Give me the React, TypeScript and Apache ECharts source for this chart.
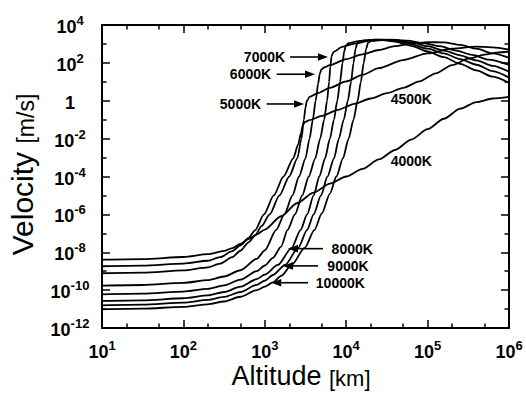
import React, { useEffect, useRef } from "react";
import * as echarts from "echarts";

// Values are read off the log-log picture as decades:
// [log10(altitude / km), log10(velocity / (m/s))]
const xDecades = [1, 2, 3, 4, 5, 6];
const yDecades = [-12, -10, -8, -6, -4, -2, 0, 2, 4];

const c4000 = [[1,-8.39],[1.5,-8.36],[2,-8.25],[2.3,-8.1],[2.5,-7.93],[2.6,-7.78],[2.7,-7.56],[2.8,-7.3],[2.9,-7.06],[3,-6.8],[3.2,-6.1],[3.4,-5.4],[3.6,-4.85],[3.8,-4.38],[4,-4.0],[4.2,-3.6],[4.4,-3.1],[4.6,-2.6],[4.8,-2.05],[5,-1.5],[5.2,-0.95],[5.4,-0.42],[5.6,-0.07],[5.8,0.12],[6,0.2]];
const c4500 = [[1,-8.74],[1.5,-8.71],[2,-8.6],[2.3,-8.45],[2.45,-8.26],[2.6,-7.94],[2.7,-7.64],[2.8,-7.24],[2.88,-6.84],[2.99,-6.0],[3.11,-5.0],[3.23,-4.0],[3.35,-3.04],[3.41,-2.3],[3.445,-1.7],[3.465,-1.32],[3.49,-1.13],[3.55,-1.02],[3.7,-0.8],[3.9,-0.48],[4.1,-0.16],[4.3,0.12],[4.5,0.4],[4.7,0.68],[4.9,1.02],[5.1,1.45],[5.3,1.88],[5.5,2.22],[5.7,2.44],[5.85,2.54],[6,2.6]];
const c5000 = [[1,-9.11],[1.5,-9.08],[2,-8.96],[2.3,-8.8],[2.45,-8.6],[2.6,-8.26],[2.7,-7.92],[2.8,-7.48],[2.88,-7.12],[2.96,-6.62],[3.06,-6.0],[3.18,-5.0],[3.3,-4.0],[3.4,-3.04],[3.45,-2.0],[3.48,-1.0],[3.5,-0.35],[3.515,-0.02],[3.55,0.2],[3.65,0.4],[3.8,0.68],[4,1.02],[4.2,1.37],[4.4,1.72],[4.7,2.15],[5,2.5],[5.3,2.75],[5.6,2.86],[5.8,2.82],[6,2.7]];
const c6000 = [[1,-9.76],[1.5,-9.73],[2,-9.62],[2.3,-9.47],[2.5,-9.28],[2.7,-8.95],[2.9,-8.35],[3.0,-7.9],[3.14,-6.82],[3.24,-6.0],[3.34,-5.0],[3.42,-4.0],[3.5,-3.04],[3.55,-2.0],[3.59,-1.0],[3.625,0.0],[3.655,0.9],[3.675,1.42],[3.695,1.65],[3.73,1.76],[3.8,1.88],[4,2.2],[4.2,2.45],[4.4,2.68],[4.6,2.88],[4.8,3.02],[5,3.1],[5.2,3.08],[5.4,2.95],[5.6,2.75],[5.8,2.5],[6,2.26]];
const c7000 = [[1,-10.22],[1.5,-10.19],[2,-10.08],[2.3,-9.93],[2.5,-9.75],[2.7,-9.45],[2.9,-9.0],[3.0,-8.7],[3.1,-8.3],[3.2,-7.7],[3.28,-6.82],[3.37,-6.0],[3.46,-5.0],[3.54,-4.0],[3.62,-3.04],[3.68,-2.0],[3.73,-1.0],[3.765,0.0],[3.79,1.0],[3.805,1.8],[3.82,2.35],[3.845,2.58],[3.95,2.85],[4.1,3.02],[4.3,3.18],[4.45,3.2],[4.6,3.12],[4.8,2.9],[5,2.6],[5.2,2.3],[5.4,1.95],[5.6,1.6],[5.8,1.27],[6,0.94]];
const c8000 = [[1,-10.57],[1.5,-10.54],[2,-10.43],[2.3,-10.28],[2.5,-10.1],[2.7,-9.82],[2.9,-9.42],[3.0,-9.18],[3.16,-8.67],[3.33,-7.77],[3.44,-6.82],[3.52,-6.0],[3.6,-5.0],[3.67,-4.0],[3.74,-3.04],[3.8,-2.0],[3.85,-1.0],[3.89,0.0],[3.925,1.0],[3.955,2.0],[3.975,2.6],[3.995,2.92],[4.03,3.04],[4.15,3.15],[4.35,3.22],[4.55,3.2],[4.75,3.05],[5,2.75],[5.2,2.5],[5.4,2.2],[5.6,1.9],[5.8,1.56],[6,1.22]];
const c9000 = [[1,-10.8],[1.5,-10.77],[2,-10.66],[2.3,-10.52],[2.5,-10.36],[2.7,-10.1],[2.9,-9.72],[3.0,-9.5],[3.1,-9.2],[3.25,-8.67],[3.41,-7.77],[3.52,-6.82],[3.6,-6.0],[3.69,-5.0],[3.77,-4.0],[3.85,-3.04],[3.91,-2.0],[3.97,-1.0],[4.02,0.0],[4.06,1.0],[4.09,2.0],[4.115,2.75],[4.14,3.08],[4.18,3.16],[4.3,3.21],[4.45,3.23],[4.6,3.2],[4.8,3.08],[5,2.88],[5.2,2.65],[5.4,2.4],[5.6,2.13],[5.8,1.84],[6,1.54]];
const c10000 = [[1,-11.01],[1.5,-10.98],[2,-10.88],[2.3,-10.75],[2.5,-10.6],[2.7,-10.35],[2.9,-10.0],[3.0,-9.82],[3.1,-9.59],[3.2,-9.25],[3.33,-8.67],[3.49,-7.77],[3.61,-6.82],[3.7,-5.95],[3.8,-4.9],[3.88,-4.0],[3.96,-3.04],[4.03,-2.0],[4.09,-1.0],[4.14,0.0],[4.18,1.0],[4.215,2.0],[4.245,2.75],[4.27,3.08],[4.31,3.16],[4.4,3.2],[4.55,3.23],[4.75,3.18],[4.95,3.05],[5.15,2.88],[5.35,2.65],[5.55,2.42],[5.75,2.17],[6,1.89]];

const curves = [
  { name: "4000K", data: c4000 },
  { name: "4500K", data: c4500 },
  { name: "5000K", data: c5000 },
  { name: "6000K", data: c6000 },
  { name: "7000K", data: c7000 },
  { name: "8000K", data: c8000 },
  { name: "9000K", data: c9000 },
  { name: "10000K", data: c10000 },
];

// annotation labels (centre, in decades)
const labelTexts = ["7000K", "6000K", "5000K", "4500K", "4000K", "8000K", "9000K", "10000K"];
const labelX = [2.996, 2.824, 2.701, 4.8, 4.8, 4.074, 4.022, 3.928];
const labelY = [2.31, 1.4, -0.17, 0.09, -3.18, -7.81, -8.72, -9.61];
// arrows: tail -> tip (decades)
const arrowFrom = [[3.31, 2.31], [3.146, 1.4], [3.023, -0.17], [3.715, -7.81], [3.654, -8.72], [3.531, -9.61]];
const arrowTo = [[3.776, 2.31], [3.617, 1.4], [3.482, -0.17], [3.285, -7.81], [3.224, -8.72], [3.08, -9.61]];

const FONT = '"Liberation Sans", Arial, Helvetica, sans-serif';

export default function App() {
  const ref = useRef<HTMLDivElement>(null);
  useEffect(() => {
    if (!ref.current) return;
    const chart = echarts.init(ref.current, null, { renderer: "svg" });
    const rich = {
      b: { fontSize: 18, fontWeight: "bold", fontFamily: FONT, color: "#000", lineHeight: 22, verticalAlign: "bottom" },
      s: { fontSize: 13, fontWeight: "bold", fontFamily: FONT, color: "#000", lineHeight: 13, verticalAlign: "top" },
    };
    const fmt = (v: number) => (Math.abs(v) < 1e-9 ? "{b|1}" : `{b|10}{s|${Math.round(v)}}`);
    const minorX: number[] = [];
    xDecades.slice(0, -1).forEach((d) => {
      minorX.push(d + Math.log10(2), d + Math.log10(5));
    });
    const lineStyle = { color: "#000", width: 2 };
    const tickStyle = { color: "#000", width: 1.5 };
    const gridRect = { left: 102, top: 25, right: 17, bottom: 66 };

    const majorX = (position: string, labels: boolean) => ({
      type: "value", gridIndex: 0, position, min: xDecades[0], max: xDecades[xDecades.length - 1], interval: 1,
      axisLine: { show: true, onZero: false, lineStyle },
      axisTick: { show: true, inside: true, length: 8, lineStyle: tickStyle },
      splitLine: { show: false },
      axisLabel: { show: labels, formatter: fmt, rich, margin: 11 },
    });
    const minorXAxis = (position: string) => ({
      type: "value", gridIndex: 1, position, min: xDecades[0], max: xDecades[xDecades.length - 1], interval: 1,
      axisLine: { show: false },
      axisTick: { show: true, inside: true, length: 4.5, lineStyle: tickStyle, customValues: minorX },
      splitLine: { show: false },
      axisLabel: { show: false },
    });
    const majorY = (position: string, labels: boolean) => ({
      type: "value", gridIndex: 0, position, min: yDecades[0], max: yDecades[yDecades.length - 1], interval: 2,
      axisLine: { show: true, onZero: false, lineStyle },
      axisTick: { show: true, inside: true, length: 8, lineStyle: tickStyle },
      minorTick: { show: true, splitNumber: 2, length: 4.5, lineStyle: tickStyle },
      splitLine: { show: false },
      minorSplitLine: { show: false },
      axisLabel: { show: labels, formatter: fmt, rich, margin: 32, align: "center" },
    });

    chart.setOption({
      animation: false,
      backgroundColor: "#fff",
      textStyle: { fontFamily: FONT },
      grid: [
        { ...gridRect, show: false },
        { ...gridRect, show: false },
      ],
      xAxis: [majorX("bottom", true), majorX("top", false), minorXAxis("bottom"), minorXAxis("top")],
      yAxis: [
        majorY("left", true),
        majorY("right", false),
        { type: "value", gridIndex: 1, min: 0, max: 1, show: false },
      ],
      series: curves.map((c) => ({
        type: "line",
        name: c.name,
        data: c.data,
        xAxisIndex: 0,
        yAxisIndex: 0,
        showSymbol: false,
        symbol: "none",
        smooth: 0.25,
        smoothMonotone: "x",
        silent: true,
        lineStyle: { color: "#000", width: 1.8 },
      })),
    });

    const px = (p: number[]) => chart.convertToPixel({ xAxisIndex: 0, yAxisIndex: 0 }, p) as number[];
    const graphics: any[] = [];
    labelTexts.forEach((t, i) => {
      const [x, y] = px([labelX[i], labelY[i]]);
      graphics.push({
        type: "text", x, y, silent: true,
        style: { text: t, fill: "#000", font: `bold 14px ${FONT}`, align: "center", verticalAlign: "middle" },
      });
    });
    arrowFrom.forEach((f, i) => {
      const [x1, y1] = px(f);
      const [x2, y2] = px(arrowTo[i]);
      const dx = x2 - x1, dy = y2 - y1;
      const len = Math.hypot(dx, dy) || 1;
      const ux = dx / len, uy = dy / len;
      const hl = 10, hw = 3.8;
      const bx = x2 - ux * hl, by = y2 - uy * hl;
      graphics.push({
        type: "line", silent: true,
        shape: { x1, y1, x2: bx, y2: by },
        style: { stroke: "#000", lineWidth: 1.6 },
      });
      graphics.push({
        type: "polygon", silent: true,
        shape: { points: [[x2, y2], [bx - uy * hw, by + ux * hw], [bx + uy * hw, by - ux * hw]] },
        style: { fill: "#000" },
      });
    });
    graphics.push({
      type: "text", x: 301, y: 377, silent: true,
      style: {
        text: "{a|Altitude }{u|[km]}", align: "center", verticalAlign: "middle", fill: "#000",
        rich: {
          a: { fontSize: 27, fontFamily: FONT, lineHeight: 24, verticalAlign: "bottom", fill: "#000" },
          u: { fontSize: 22, fontFamily: FONT, lineHeight: 21, verticalAlign: "bottom", fill: "#000" },
        },
      },
    });
    graphics.push({
      type: "text", x: 22.5, y: 174.5, rotation: Math.PI / 2, silent: true,
      style: {
        text: "{a|Velocity }{u|[m/s]}", align: "center", verticalAlign: "middle", fill: "#000",
        rich: {
          a: { fontSize: 30, fontFamily: FONT, lineHeight: 30, verticalAlign: "bottom", fill: "#000" },
          u: { fontSize: 23, fontFamily: FONT, lineHeight: 23, verticalAlign: "bottom", fill: "#000" },
        },
      },
    });
    chart.setOption({ graphic: graphics });

    return () => chart.dispose();
  }, []);
  return (
    <div
      ref={ref}
      style={{ position: "absolute", left: 0, top: 0, width: 526, height: 394, background: "#fff" }}
    />
  );
}
